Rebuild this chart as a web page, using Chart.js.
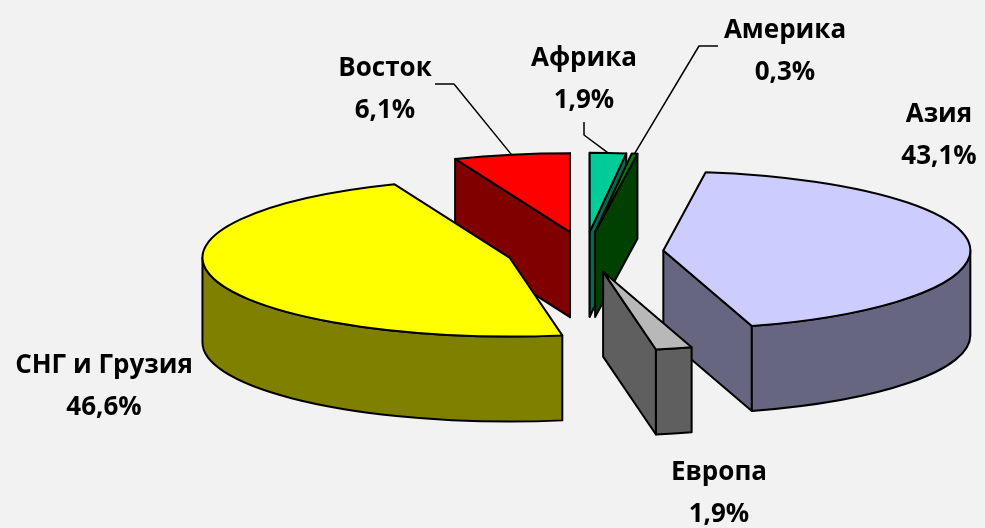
<!DOCTYPE html>
<html>
<head>
<meta charset="utf-8">
<script src="https://cdn.jsdelivr.net/npm/chart.js@4"></script>
<style>
html, body { margin: 0; padding: 0; background: #f2f2f2; }
#wrap { width: 985px; height: 528px; position: relative; }
</style>
</head>
<body>
<div id="wrap"><canvas id="pieChart"></canvas></div>
<script>
// slices, clockwise from 12 o'clock
const regions = ['Африка', 'Америка', 'Азия', 'Европа', 'СНГ и Грузия', 'Восток']
const shares = [1.9, 0.3, 43.1, 1.9, 46.6, 6.1]
const topColors = ['#00cc99', '#008000', '#ccccff', '#b8b8b8', '#ffff00', '#ff0000']
const sideColors = ['#006b52', '#004000', '#666680', '#5f5f5f', '#808000', '#800000']

// label placement: centre x and first baseline
const labelX = [584, 785, 939, 719, 104, 385]
const labelY = [66, 38, 122, 480, 373, 76]
// leader line start + elbow, end goes to the slice rim
const leaders = [[[584, 122], [584, 135]], [[718, 46], [699, 46]], null, null, null, [[435, 84], [454, 84]]]

// tilted look of the pie
const RX = 307   // horizontal radius on screen
const RY = 79    // vertical radius on screen
const DEPTH = 85 // height of the slices

const pctText = v => v.toFixed(1).replace('.', ',') + '%'

const pie3d = {
    id: 'pie3d',
    beforeDatasetsDraw() {
        return false
    },
    afterDraw(chart) {
        const ctx = chart.ctx
        const arcs = chart.getDatasetMeta(0).data
        const sx = RX / arcs[0].outerRadius
        const sy = RY / arcs[0].outerRadius

        const slices = arcs.map((el, i) => {
            const mid = (el.startAngle + el.endAngle) / 2
            const off = el.options.offset || 0
            return {
                i: i,
                a0: el.startAngle,
                a1: el.endAngle,
                mid: mid,
                x: el.x + Math.cos(mid) * off * sx,
                y: el.y + Math.sin(mid) * off * sy,
                rx: el.outerRadius * sx,
                ry: el.outerRadius * sy,
                top: el.options.backgroundColor,
                side: sideColors[i]
            }
        })

        ctx.save()
        ctx.lineWidth = 2
        ctx.lineJoin = 'round'
        ctx.strokeStyle = '#000'

        const face = (s, a) => {
            const px = s.x + s.rx * Math.cos(a)
            const py = s.y + s.ry * Math.sin(a)
            ctx.beginPath()
            ctx.moveTo(s.x, s.y)
            ctx.lineTo(px, py)
            ctx.lineTo(px, py + DEPTH)
            ctx.lineTo(s.x, s.y + DEPTH)
            ctx.closePath()
            ctx.fillStyle = s.side
            ctx.fill()
            ctx.stroke()
        }

        // back to front
        slices.slice().sort((a, b) => a.y - b.y).forEach(s => {
            if (Math.cos(s.a0) < 1e-6) face(s, s.a0)
            if (Math.cos(s.a1) > -1e-6) face(s, s.a1)

            // outer wall, only the front half shows
            const lo = Math.max(s.a0, 0)
            const hi = Math.min(s.a1, Math.PI)
            if (hi > lo) {
                ctx.beginPath()
                ctx.ellipse(s.x, s.y, s.rx, s.ry, 0, lo, hi)
                ctx.lineTo(s.x + s.rx * Math.cos(hi), s.y + s.ry * Math.sin(hi) + DEPTH)
                ctx.ellipse(s.x, s.y + DEPTH, s.rx, s.ry, 0, hi, lo, true)
                ctx.closePath()
                ctx.fillStyle = s.side
                ctx.fill()
                ctx.stroke()
            }

            // top
            ctx.beginPath()
            ctx.moveTo(s.x, s.y)
            ctx.ellipse(s.x, s.y, s.rx, s.ry, 0, s.a0, s.a1)
            ctx.closePath()
            ctx.fillStyle = s.top
            ctx.fill()
            ctx.stroke()
        })

        // leader lines
        ctx.lineWidth = 1.5
        slices.forEach(s => {
            const l = leaders[s.i]
            if (!l) return
            ctx.beginPath()
            ctx.moveTo(l[0][0], l[0][1])
            ctx.lineTo(l[1][0], l[1][1])
            ctx.lineTo(s.x + s.rx * Math.cos(s.mid), s.y + s.ry * Math.sin(s.mid))
            ctx.stroke()
        })

        // labels
        ctx.fillStyle = '#000'
        ctx.textAlign = 'center'
        ctx.textBaseline = 'alphabetic'
        ctx.font = 'bold 26px "Open Sans"'
        regions.forEach((name, i) => {
            ctx.fillText(name, labelX[i], labelY[i])
            ctx.fillText(pctText(shares[i]), labelX[i], labelY[i] + 42)
        })
        ctx.restore()
    }
}

const pieChart = new Chart(document.getElementById('pieChart'), {
    type: 'pie',
    data: {
        labels: regions,
        datasets: [{
            data: shares,
            backgroundColor: topColors,
            borderColor: '#000',
            borderWidth: 1.5,
            offset: 57
        }]
    },
    options: {
        responsive: true,
        maintainAspectRatio: false,
        animation: false,
        layout: {
            padding: { left: 185, right: 0, top: 0, bottom: 24 }
        },
        plugins: {
            legend: { display: false },
            tooltip: { enabled: false }
        }
    },
    plugins: [pie3d]
})
</script>
</body>
</html>
